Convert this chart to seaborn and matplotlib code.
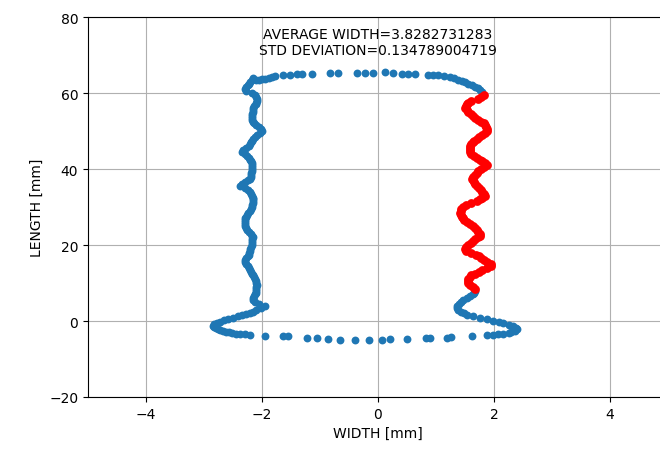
import matplotlib
matplotlib.use('Agg')
import matplotlib.pyplot as plt
import seaborn as sns

# left wall, read top to bottom (mm)
left_y = [64.0, 63.5, 63.0, 62.5, 62.0, 61.5, 61.0, 60.5, 60.0, 59.5, 59.0, 58.5, 58.0, 57.5,
          57.0, 56.5, 56.0, 55.5, 55.0, 54.5, 54.0, 53.5, 53.0, 52.5, 52.0, 51.5, 51.0, 50.5,
          50.0, 49.5, 49.0, 48.5, 48.0, 47.5, 47.0, 46.5, 46.0, 45.5, 45.0, 44.5, 44.0, 43.5,
          43.0, 42.5, 42.0, 41.5, 41.0, 40.5, 40.0, 39.5, 39.0, 38.5, 38.0, 37.5, 37.0, 36.5,
          36.0, 35.5, 35.0, 34.5, 34.0, 33.5, 33.0, 32.5, 32.0, 31.5, 31.0, 30.5, 30.0, 29.5,
          29.0, 28.5, 28.0, 27.5, 27.0, 26.5, 26.0, 25.5, 25.0, 24.5, 24.0, 23.5, 23.0, 22.5,
          22.0, 21.5, 21.0, 20.5, 20.0, 19.5, 19.0, 18.5, 18.0, 17.5, 17.0, 16.5, 16.0, 15.5,
          15.0, 14.5, 14.0, 13.5, 13.0, 12.5, 12.0, 11.5, 11.0, 10.5, 10.0, 9.5, 9.0, 8.5,
          8.0, 7.5, 7.0, 6.5, 6.0, 5.5, 5.0, 4.5, 4.0,
          3.5, 3.0, 2.5, 2.1, 1.8, 1.5, 1.2, 0.8, 0.5, 0.2, -0.2, -0.5, -0.9, -1.3,
          -1.6, -1.9, -2.2, -2.4, -2.6, -2.8, -3.0, -3.2, -3.3, -3.4, -3.5, -3.7]
left_x = [-2.16, -2.18, -2.20, -2.22, -2.25, -2.28, -2.30, -2.28, -2.18, -2.12, -2.10, -2.09, -2.09, -2.10,
          -2.11, -2.13, -2.15, -2.16, -2.16, -2.17, -2.17, -2.18, -2.18, -2.16, -2.14, -2.10, -2.05, -2.02,
          -2.00, -2.04, -2.08, -2.12, -2.16, -2.18, -2.19, -2.21, -2.23, -2.27, -2.32, -2.35, -2.30, -2.26,
          -2.22, -2.20, -2.19, -2.18, -2.18, -2.18, -2.18, -2.18, -2.19, -2.19, -2.19, -2.21, -2.24, -2.29,
          -2.34, -2.38, -2.30, -2.25, -2.21, -2.19, -2.17, -2.16, -2.16, -2.16, -2.16, -2.17, -2.18, -2.19,
          -2.21, -2.24, -2.26, -2.28, -2.30, -2.30, -2.30, -2.30, -2.30, -2.28, -2.26, -2.22, -2.19, -2.17,
          -2.16, -2.17, -2.17, -2.18, -2.18, -2.19, -2.20, -2.21, -2.22, -2.23, -2.24, -2.27, -2.29, -2.30,
          -2.28, -2.25, -2.22, -2.20, -2.19, -2.18, -2.16, -2.14, -2.12, -2.11, -2.10, -2.09, -2.10, -2.10,
          -2.11, -2.11, -2.12, -2.13, -2.15, -2.16, -2.12, -2.05, -1.95,
          -2.02, -2.10, -2.16, -2.21, -2.28, -2.35, -2.42, -2.50, -2.58, -2.65, -2.72, -2.78, -2.82, -2.85,
          -2.83, -2.80, -2.76, -2.73, -2.67, -2.62, -2.57, -2.52, -2.45, -2.38, -2.30, -2.21]

# bottom edge, left to right
bottom_x = [-1.95, -1.63, -1.55, -1.23, -1.05, -0.86, -0.66, -0.40, -0.16, 0.07, 0.21, 0.50,
            0.83, 0.90, 1.19, 1.26, 1.62, 1.88]
bottom_y = [-3.9, -3.9, -3.9, -4.5, -4.5, -4.7, -5.0, -5.0, -5.0, -5.0, -4.7, -4.7,
            -4.5, -4.5, -4.5, -4.2, -3.9, -3.7]

# lower right hook, bottom to top
hook_x = [1.99, 2.07, 2.16, 2.25, 2.30, 2.36, 2.40, 2.38, 2.32, 2.25, 2.16, 2.08, 1.99, 1.88,
          1.76, 1.64, 1.54, 1.49, 1.43, 1.38, 1.36, 1.37, 1.39, 1.43, 1.47, 1.53, 1.58, 1.64,
          1.66, 1.68]
hook_y = [-3.7, -3.5, -3.3, -3.2, -2.9, -2.5, -2.1, -1.8, -1.4, -1.0, -0.6, -0.3, 0.0, 0.4,
          0.8, 1.2, 1.6, 2.0, 2.5, 3.0, 3.5, 4.0, 4.5, 5.0, 5.5, 6.0, 6.5, 7.0,
          7.5, 8.0]

# top edge, left to right
top_x = [-2.10, -2.05, -2.00, -1.95, -1.88, -1.82, -1.78, -1.64, -1.52, -1.40, -1.31, -1.14,
         -0.83, -0.69, -0.36, -0.22, -0.09, 0.12, 0.26, 0.41, 0.52, 0.64, 0.86, 0.95,
         1.04, 1.14, 1.24, 1.31, 1.38, 1.44, 1.50, 1.56, 1.62, 1.67, 1.72, 1.76, 1.80]
top_y = [63.5, 63.4, 63.6, 63.7, 64.0, 64.3, 64.5, 64.7, 64.7, 64.9, 65.0, 65.0,
         65.3, 65.3, 65.3, 65.3, 65.3, 65.5, 65.3, 65.0, 65.0, 65.0, 64.7, 64.7,
         64.7, 64.5, 64.2, 63.9, 63.5, 63.2, 62.9, 62.5, 62.1, 61.7, 61.2, 60.8, 60.3]

# right wall used for the width measurement, top to bottom
right_y = [59.5, 59.0, 58.5, 58.0, 57.5, 57.0, 56.5, 56.0, 55.5, 55.0, 54.5, 54.0, 53.5, 53.0,
           52.5, 52.0, 51.5, 51.0, 50.5, 50.0, 49.5, 49.0, 48.5, 48.0, 47.5, 47.0, 46.5, 46.0,
           45.5, 45.0, 44.5, 44.0, 43.5, 43.0, 42.5, 42.0, 41.5, 41.0, 40.5, 40.0, 39.5, 39.0,
           38.5, 38.0, 37.5, 37.0, 36.5, 36.0, 35.5, 35.0, 34.5, 34.0, 33.5, 33.0, 32.5, 32.0,
           31.5, 31.0, 30.5, 30.0, 29.5, 29.0, 28.5, 28.0, 27.5, 27.0, 26.5, 26.0, 25.5, 25.0,
           24.5, 24.0, 23.5, 23.0, 22.5, 22.0, 21.5, 21.0, 20.5, 20.0, 19.5, 19.0, 18.5, 18.0,
           17.5, 17.0, 16.5, 16.0, 15.5, 15.0, 14.5, 14.0, 13.5, 13.0, 12.5, 12.0, 11.5, 11.0,
           10.5, 10.0, 9.5, 9.0, 8.5]
right_x = [1.83, 1.78, 1.72, 1.61, 1.56, 1.53, 1.51, 1.50, 1.53, 1.56, 1.60, 1.64, 1.68, 1.72,
           1.77, 1.82, 1.85, 1.87, 1.88, 1.88, 1.84, 1.79, 1.74, 1.70, 1.66, 1.63, 1.60, 1.59,
           1.59, 1.59, 1.59, 1.61, 1.66, 1.71, 1.75, 1.80, 1.85, 1.88, 1.82, 1.77, 1.73, 1.70,
           1.67, 1.64, 1.62, 1.63, 1.65, 1.68, 1.71, 1.74, 1.77, 1.80, 1.83, 1.84, 1.79, 1.75,
           1.70, 1.60, 1.51, 1.46, 1.43, 1.43, 1.42, 1.43, 1.45, 1.47, 1.49, 1.53, 1.59, 1.64,
           1.68, 1.71, 1.73, 1.75, 1.76, 1.72, 1.68, 1.64, 1.60, 1.56, 1.52, 1.50, 1.52, 1.60,
           1.69, 1.74, 1.78, 1.82, 1.88, 1.94, 1.95, 1.88, 1.80, 1.74, 1.67, 1.61, 1.58, 1.56,
           1.55, 1.55, 1.58, 1.63, 1.68]

avg_width = 3.8282731283
std_dev = 0.134789004719

fig = plt.figure(figsize=(6.6, 4.52), dpi=100)
ax = fig.add_axes([88 / 660, 54 / 452, 580 / 660, 380 / 452])

blue_x = left_x + bottom_x + hook_x + top_x
blue_y = left_y + bottom_y + hook_y + top_y
sns.scatterplot(x=blue_x, y=blue_y, ax=ax, color='#1f77b4', s=32, linewidth=0)
sns.scatterplot(x=right_x, y=right_y, ax=ax, color='red', s=40, linewidth=0)

ax.text(0, 69.5, 'AVERAGE WIDTH=' + str(avg_width) + '\nSTD DEVIATION=' + str(std_dev),
        ha='center', va='bottom', fontsize=10)

ax.set_xlim(-5, 5)
ax.set_ylim(-20, 80)
ax.set_xticks([-4, -2, 0, 2, 4])
ax.set_yticks([-20, 0, 20, 40, 60, 80])
ax.grid(True)
ax.set_axisbelow(True)
ax.set_xlabel('WIDTH [mm]')
ax.set_ylabel('LENGTH [mm]')

fig.savefig('out.png', dpi=100)
